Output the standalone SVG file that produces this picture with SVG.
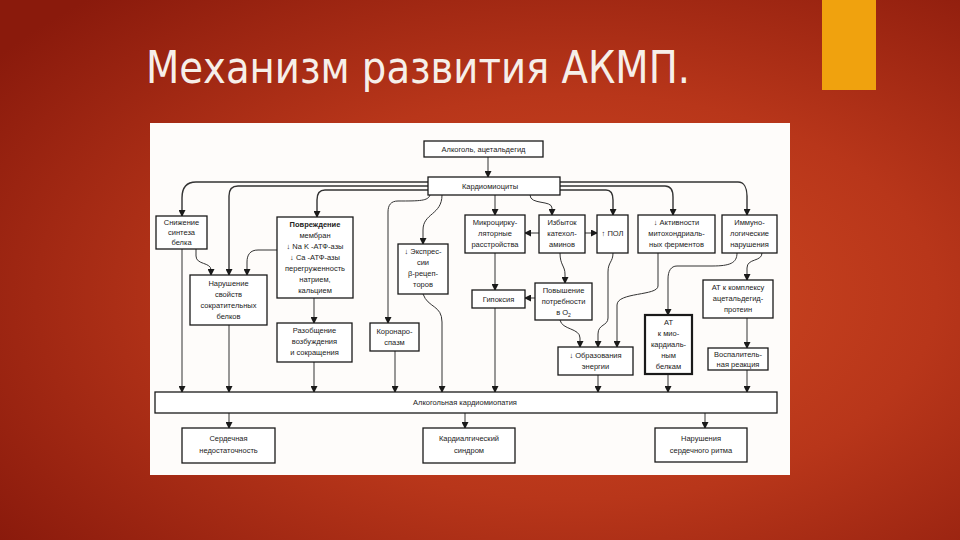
<svg xmlns="http://www.w3.org/2000/svg" width="960" height="540" viewBox="0 0 960 540">
<defs>
<radialGradient id="bg" cx="0.6" cy="0.55" r="0.75">
<stop offset="0" stop-color="#d24a22"/>
<stop offset="0.5" stop-color="#b8361a"/>
<stop offset="1" stop-color="#8a1a0c"/>
</radialGradient>
<marker id="ar" markerUnits="userSpaceOnUse" markerWidth="7" markerHeight="7" refX="6" refY="3.5" orient="auto">
<path d="M0,0 L7,3.5 L0,7 z" fill="#1a1a1a"/>
</marker>
<style>
.b{fill:#fff;stroke:#1a1a1a;stroke-width:1.3}
.bt{fill:#fff;stroke:#1a1a1a;stroke-width:2.2}
.t{font-family:"Liberation Sans",Arial,sans-serif;font-size:7.5px;fill:#222;text-anchor:middle}
.c{fill:none;stroke:#333;stroke-width:1}
.ca{fill:none;stroke:#333;stroke-width:1;marker-end:url(#ar)}
.th{fill:none;stroke:#333;stroke-width:1.4}
</style>
</defs>
<rect width="960" height="540" fill="url(#bg)"/>
<rect x="822" y="0" width="54" height="90" fill="#f0a20e"/>
<text x="146" y="83" font-family="DejaVu Sans, sans-serif" font-size="44" fill="#f6efe9" textLength="544" lengthAdjust="spacingAndGlyphs">Механизм развития АКМП.</text>
<rect x="150" y="123" width="640" height="352" fill="#fefcfa"/>

<g id="connectors">
<path class="ca" d="M488,157 L488,177"/>
<!-- triple lines left -->
<path class="th marker" d="M428,182 L196,182 C186,182 182,188 182,198 L182,216" marker-end="url(#ar)"/>
<path class="th" d="M428,186 L238,186 C232,186 229,190 229,196 L229,275" marker-end="url(#ar)"/>
<path class="th" d="M428,190 L325,190 C319,190 317,194 317,200 L317,217" marker-end="url(#ar)"/>
<!-- triple lines right -->
<path class="th" d="M560,182 L738,182 C744,182 747,188 747,196 L747,215" marker-end="url(#ar)"/>
<path class="th" d="M560,186 L665,186 C671,186 673,190 673,197 L673,215" marker-end="url(#ar)"/>
<path class="th" d="M560,190 L606,190 C611,190 613,194 613,200 L613,215" marker-end="url(#ar)"/>

<path class="ca" d="M182,249 L182,392"/>
<path class="ca" d="M196,249 L196,256 C196,265 211,262 211,270 L211,275"/>
<path class="ca" d="M277,250 L258,250 C250,250 247,255 247,262 L247,275"/>
<path class="ca" d="M229,325 L229,392"/>
<path class="ca" d="M314,298 L314,323"/>
<path class="ca" d="M314,362 L314,392"/>
<path class="ca" d="M430,195 C428,201 420,201 398,201 C391,201 388,205 388,212 L388,323"/>
<path class="ca" d="M395,351 L395,392"/>
<path class="ca" d="M442,195 C442,215 423,213 423,230 L423,244"/>
<path class="ca" d="M423,294 C428,308 442,305 442,322 L442,392"/>
<path class="ca" d="M495,195 L495,215"/>
<path class="ca" d="M530,195 C530,205 552,200 552,208 L552,215"/>
<path class="ca" d="M539,233 L525,233"/>
<path class="ca" d="M585,233 L597,233"/>
<path class="ca" d="M560,253 C560,265 565,266 565,274 L565,283"/>
<path class="ca" d="M495,253 L495,290"/>
<path class="ca" d="M535,298 L525,298"/>
<path class="ca" d="M495,308 L495,392"/>
<path class="ca" d="M560,320 C562,330 580,328 580,338 L580,347"/>
<path class="ca" d="M613,253 C613,262 608,262 608,272 L608,318 C608,326 598,324 598,334 L598,347"/>
<path class="ca" d="M658,253 L658,286 C658,296 617,292 617,305 L617,347"/>
<path class="ca" d="M737,253 C737,263 730,266 712,266 L677,266 C671,266 668,271 668,279 L668,315"/>
<path class="ca" d="M762,253 C762,262 747,258 747,268 L747,280"/>
<path class="ca" d="M747,318 L747,348"/>
<path class="ca" d="M747,370 L747,392"/>
<path class="ca" d="M598,375 L598,392"/>
<path class="ca" d="M668,374 L668,392"/>
<path class="ca" d="M229,413 L229,428"/>
<path class="ca" d="M465,413 L465,428"/>
<path class="ca" d="M705,413 L705,428"/>
</g>

<g id="n-alcohol"><rect class="b" x="424" y="141" width="119" height="16"/><text class="t" x="483.5" y="152">Алкоголь, ацетальдегид</text></g>
<g id="n-cardiomyocytes"><rect class="b" x="428" y="177" width="132" height="18"/><text class="t" x="490" y="189">Кардиомиоциты</text></g>
<g id="n-protein"><rect class="b" x="156" y="216" width="51" height="33"/><text class="t" x="181.5" y="225">Снижение</text><text class="t" x="181.5" y="235">синтеза</text><text class="t" x="181.5" y="245">белка</text></g>
<g id="n-membrane"><rect class="b" x="277" y="217" width="76" height="81"/><text class="t" x="315" y="227" font-weight="bold">Повреждение</text><text class="t" x="315" y="238">мембран</text><text class="t" x="315" y="249">↓ Na K -АТФ-азы</text><text class="t" x="315" y="260">↓ Ca -АТФ-азы</text><text class="t" x="315" y="271">перегруженность</text><text class="t" x="315" y="282">натрием,</text><text class="t" x="315" y="293">кальцием</text></g>
<g id="n-contractile"><rect class="b" x="190" y="275" width="77" height="50"/><text class="t" x="228.5" y="286">Нарушение</text><text class="t" x="228.5" y="297">свойств</text><text class="t" x="228.5" y="308">сократительных</text><text class="t" x="228.5" y="319">белков</text></g>
<g id="n-uncoupling"><rect class="b" x="277" y="323" width="75" height="39"/><text class="t" x="314.5" y="333">Разобщение</text><text class="t" x="314.5" y="344">возбуждения</text><text class="t" x="314.5" y="355">и сокращения</text></g>
<g id="n-spasm"><rect class="b" x="370" y="323" width="49" height="28"/><text class="t" x="394.5" y="334">Коронаро-</text><text class="t" x="394.5" y="345">спазм</text></g>
<g id="n-beta"><rect class="b" x="398" y="244" width="50" height="50"/><text class="t" x="423" y="254">↓ Экспрес-</text><text class="t" x="423" y="265">сии</text><text class="t" x="423" y="276">β-рецеп-</text><text class="t" x="423" y="287">торов</text></g>
<g id="n-microcirc"><rect class="b" x="465" y="215" width="60" height="38"/><text class="t" x="495" y="225">Микроцирку-</text><text class="t" x="495" y="236">ляторные</text><text class="t" x="495" y="247">расстройства</text></g>
<g id="n-catechol"><rect class="b" x="539" y="215" width="46" height="38"/><text class="t" x="562" y="225">Избыток</text><text class="t" x="562" y="236">катехол-</text><text class="t" x="562" y="247">аминов</text></g>
<g id="n-pol"><rect class="b" x="597" y="215" width="31" height="38"/><text class="t" x="612.5" y="236">↑ ПОЛ</text></g>
<g id="n-mito"><rect class="b" x="638" y="215" width="77" height="38"/><text class="t" x="676.5" y="225">↓ Активности</text><text class="t" x="676.5" y="236">митохондриаль-</text><text class="t" x="676.5" y="247">ных ферментов</text></g>
<g id="n-immuno"><rect class="b" x="722" y="215" width="55" height="38"/><text class="t" x="749.5" y="225">Иммуно-</text><text class="t" x="749.5" y="236">логические</text><text class="t" x="749.5" y="247">нарушения</text></g>
<g id="n-hypoxia"><rect class="b" x="472" y="290" width="53" height="18"/><text class="t" x="498.5" y="302">Гипоксия</text></g>
<g id="n-o2"><rect class="b" x="535" y="283" width="57" height="37"/><text class="t" x="563.5" y="293">Повышение</text><text class="t" x="563.5" y="304">потребности</text><text class="t" x="563.5" y="315">в O<tspan font-size="5" dy="1.5">2</tspan></text></g>
<g id="n-energy"><rect class="b" x="558" y="347" width="75" height="28"/><text class="t" x="595.5" y="358">↓ Образования</text><text class="t" x="595.5" y="369">энергии</text></g>
<g id="n-at-myo"><rect class="bt" x="645" y="315" width="47" height="59"/><text class="t" x="668.5" y="325">АТ</text><text class="t" x="668.5" y="336">к мио-</text><text class="t" x="668.5" y="347">кардиаль-</text><text class="t" x="668.5" y="358">ным</text><text class="t" x="668.5" y="369">белкам</text></g>
<g id="n-at-complex"><rect class="b" x="703" y="280" width="70" height="38"/><text class="t" x="738" y="290">АТ к комплексу</text><text class="t" x="738" y="301">ацетальдегид-</text><text class="t" x="738" y="312">протеин</text></g>
<g id="n-inflam"><rect class="b" x="708" y="348" width="60" height="22"/><text class="t" x="738" y="357">Воспалитель-</text><text class="t" x="738" y="367">ная реакция</text></g>
<g id="n-acm"><rect class="b" x="155" y="392" width="622" height="21"/><text class="t" x="465" y="405">Алкогольная кардиомиопатия</text></g>
<g id="n-hf"><rect class="b" x="182" y="428" width="93" height="35"/><text class="t" x="228.5" y="441">Сердечная</text><text class="t" x="228.5" y="453">недостаточность</text></g>
<g id="n-cardialgia"><rect class="b" x="423" y="428" width="92" height="35"/><text class="t" x="469" y="441">Кардиалгический</text><text class="t" x="469" y="453">синдром</text></g>
<g id="n-rhythm"><rect class="b" x="655" y="428" width="92" height="34"/><text class="t" x="701" y="441">Нарушения</text><text class="t" x="701" y="453">сердечного ритма</text></g>
</svg>
